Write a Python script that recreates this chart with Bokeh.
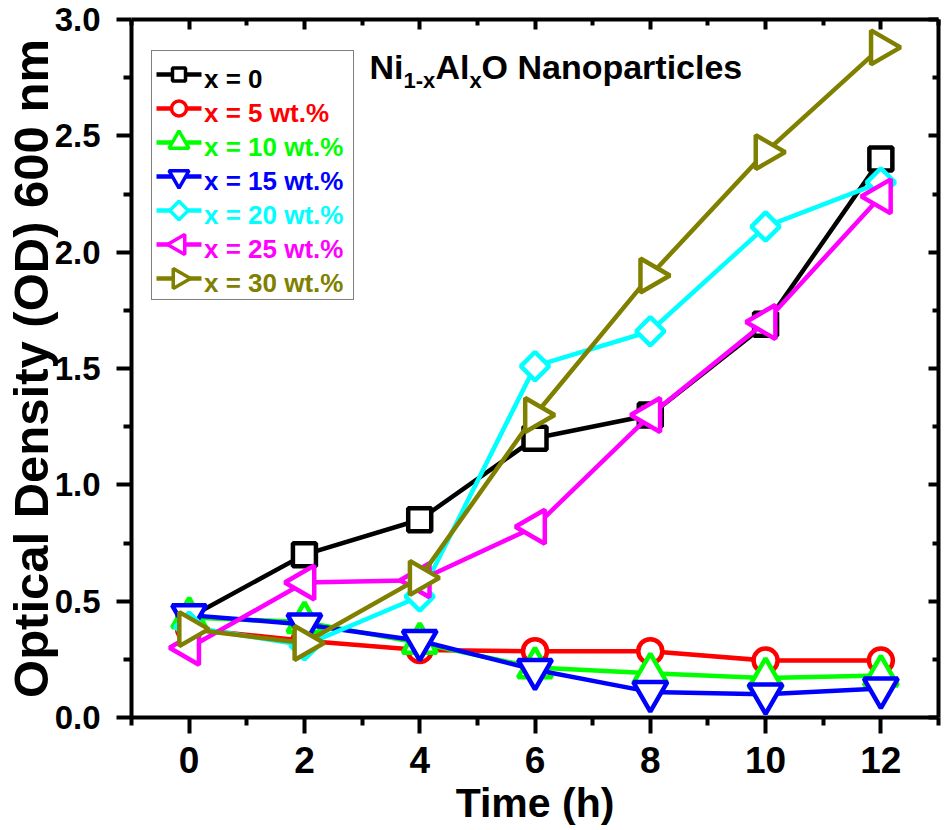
import math
from bokeh.plotting import figure
from bokeh.models import Range1d, LinearAxis, FixedTicker, Legend, LegendItem, Label
from bokeh.embed import file_html
from bokeh.resources import INLINE

# ---------------- data ----------------
time_h = [0, 2, 4, 6, 8, 10, 12]
od_x0 = [0.43, 0.70, 0.85, 1.20, 1.30, 1.69, 2.40]
od_x5 = [0.38, 0.33, 0.29, 0.285, 0.285, 0.245, 0.245]
od_x10 = [0.43, 0.41, 0.32, 0.215, 0.19, 0.17, 0.18]
od_x15 = [0.44, 0.40, 0.33, 0.205, 0.11, 0.10, 0.125]
od_x20 = [0.39, 0.31, 0.52, 1.51, 1.66, 2.11, 2.30]
od_x25 = [0.30, 0.58, 0.59, 0.82, 1.30, 1.70, 2.24]
od_x30 = [0.38, 0.32, 0.60, 1.30, 1.90, 2.43, 2.88]
series_names = ["x = 0", "x = 5 wt.%", "x = 10 wt.%", "x = 15 wt.%",
                "x = 20 wt.%", "x = 25 wt.%", "x = 30 wt.%"]
series_values = [od_x0, od_x5, od_x10, od_x15, od_x20, od_x25, od_x30]

x_major_ticks = [0, 2, 4, 6, 8, 10, 12]
x_minor_ticks = [-1, 1, 3, 5, 7, 9, 11, 13]
y_major_ticks = [0.0, 0.5, 1.0, 1.5, 2.0, 2.5, 3.0]
y_minor_ticks = [0.25, 0.75, 1.25, 1.75, 2.25, 2.75]
y_tick_labels = ["0.0", "0.5", "1.0", "1.5", "2.0", "2.5", "3.0"]
x_tick_labels = ["0", "2", "4", "6", "8", "10", "12"]

title_parts = ["Ni", "1-x", "Al", "x", "O Nanoparticles"]

# ---------------- styles ----------------
colors = ["#000000", "#FF0000", "#00FF00", "#0000FF", "#00FFFF", "#FF00FF", "#808000"]
markers = [("square", 0.0, 23), ("circle", 0.0, 24), ("triangle", 0.0, 34),
           ("inverted_triangle", 0.0, 34), ("square", math.pi / 4, 20),
           ("triangle", math.pi / 2, 34), ("triangle", -math.pi / 2, 34)]
legend_marker_sizes = [13, 15, 20, 20, 13, 20, 20]
FONT = "'Liberation Sans', Arial, sans-serif"
FW, FH = 807, 698

p = figure(frame_width=FW, frame_height=FH,
           x_range=Range1d(-1, 13), y_range=Range1d(0, 3),
           output_backend="svg", toolbar_location=None,
           min_border_left=0, min_border_right=4, min_border_top=19, min_border_bottom=0)
p.extra_x_ranges = {"px": Range1d(0, FW)}
p.extra_y_ranges = {"py": Range1d(0, FH)}
p.outline_line_color = None
p.xgrid.visible = False
p.ygrid.visible = False
p.background_fill_color = "white"
p.border_fill_color = "white"

xt = FixedTicker(ticks=x_major_ticks, minor_ticks=x_minor_ticks)
yt = FixedTicker(ticks=y_major_ticks, minor_ticks=y_minor_ticks)


def style_axis(ax, tin, tout, min_in, min_out):
    ax.axis_line_width = 4
    ax.axis_line_color = "black"
    ax.major_tick_line_width = 4
    ax.minor_tick_line_width = 4
    ax.major_tick_line_color = "black"
    ax.minor_tick_line_color = "black"
    ax.major_tick_in = tin
    ax.major_tick_out = tout
    ax.minor_tick_in = min_in
    ax.minor_tick_out = min_out


xa = p.xaxis[0]
xa.ticker = xt
xa.major_label_overrides = dict(zip(x_major_ticks, x_tick_labels))
style_axis(xa, 0, 16, 0, 8)
xa.major_label_text_font = FONT
xa.major_label_text_font_style = "bold"
xa.major_label_text_font_size = "37px"
xa.major_label_text_color = "black"
xa.major_label_standoff = 13
xa.axis_label = "Time (h)"
xa.axis_label_text_font = FONT
xa.axis_label_text_font_style = "bold"
xa.axis_label_text_font_size = "41px"
xa.axis_label_text_color = "black"
xa.axis_label_standoff = 4

ya = p.yaxis[0]
ya.ticker = yt
ya.major_label_overrides = dict(zip(y_major_ticks, y_tick_labels))
style_axis(ya, 0, 15, 0, 8)
ya.major_label_text_font = FONT
ya.major_label_text_font_style = "bold"
ya.major_label_text_font_size = "33px"
ya.major_label_text_color = "black"
ya.major_label_standoff = 16
ya.axis_label = "Optical Density (OD) 600 nm"
ya.axis_label_text_font = FONT
ya.axis_label_text_font_style = "bold"
ya.axis_label_text_font_size = "49px"
ya.axis_label_text_color = "black"
ya.axis_label_standoff = -6

top = LinearAxis(ticker=xt, major_label_text_font_size="1px", major_label_text_color=None,
                 major_label_standoff=0)
style_axis(top, 10, 0, 6, 0)
p.add_layout(top, "above")
right = LinearAxis(ticker=yt, major_label_text_font_size="1px", major_label_text_color=None,
                   major_label_standoff=0)
style_axis(right, 10, 0, 6, 0)
p.add_layout(right, "right")

for vals, col, (mk, ang, sz) in zip(series_values, colors, markers):
    p.line(time_h, vals, line_color=col, line_width=4.5)
    p.scatter(time_h, vals, marker=mk, angle=ang, size=sz, line_color=col,
              line_width=4.5, fill_color="white")

# legend: transparent bordered box + one coloured label per row; the
# line/marker samples are drawn as glyphs so that rotated markers show.
pad, row, gw, lstand = 5, 34, 45, 8
lx = 20
common = dict(padding=pad, margin=0, glyph_width=gw, glyph_height=row, label_height=30,
              label_standoff=lstand, spacing=0, label_text_font=FONT,
              label_text_font_style="bold", label_text_font_size="26px",
              inactive_fill_alpha=0)
box_top = 665
n = len(series_names)
box_h = 2 * pad + n * row
blank = p.line([], [], line_alpha=0)
big = Legend(items=[LegendItem(label=" ", renderers=[blank]) for _ in series_names],
             location=(lx, box_top - box_h), border_line_color="black",
             border_line_width=1.5, background_fill_alpha=0, label_width=138, **common)
p.add_layout(big, "center")

for i, (name, col) in enumerate(zip(series_names, colors)):
    lg = Legend(items=[LegendItem(label=name, renderers=[blank])],
                location=(lx, box_top - row * i - (2 * pad + row)),
                border_line_color=None, background_fill_alpha=0,
                label_text_color=col, **common)
    p.add_layout(lg, "center")

for i, (col, (mk, ang, _), lsz) in enumerate(zip(colors, markers, legend_marker_sizes)):
    cy = box_top - pad - row * i - row / 2
    p.segment(x0=[lx + pad], y0=[cy], x1=[lx + pad + gw], y1=[cy], line_color=col,
              line_width=4.5, x_range_name="px", y_range_name="py")
    p.scatter([lx + pad + gw / 2], [cy], marker=mk, angle=ang, size=lsz, line_color=col,
              line_width=3.5, fill_color="white", x_range_name="px", y_range_name="py")

# title with subscripts
x0_title = 3.06
y0_title = 2.797
offsets = [(4, 0, "34px"), (38, -14, "22px"), (70, 0, "34px"), (104, -14, "22px"), (116, 0, "34px")]
for txt, (dx, dy, fs) in zip(title_parts, offsets):
    p.add_layout(Label(x=x0_title, y=y0_title, x_offset=dx, y_offset=dy, text=txt,
                       text_font=FONT, text_font_style="bold", text_font_size=fs,
                       text_baseline="alphabetic", text_color="black"))

open("out.html", "w").write(file_html(p, INLINE))
